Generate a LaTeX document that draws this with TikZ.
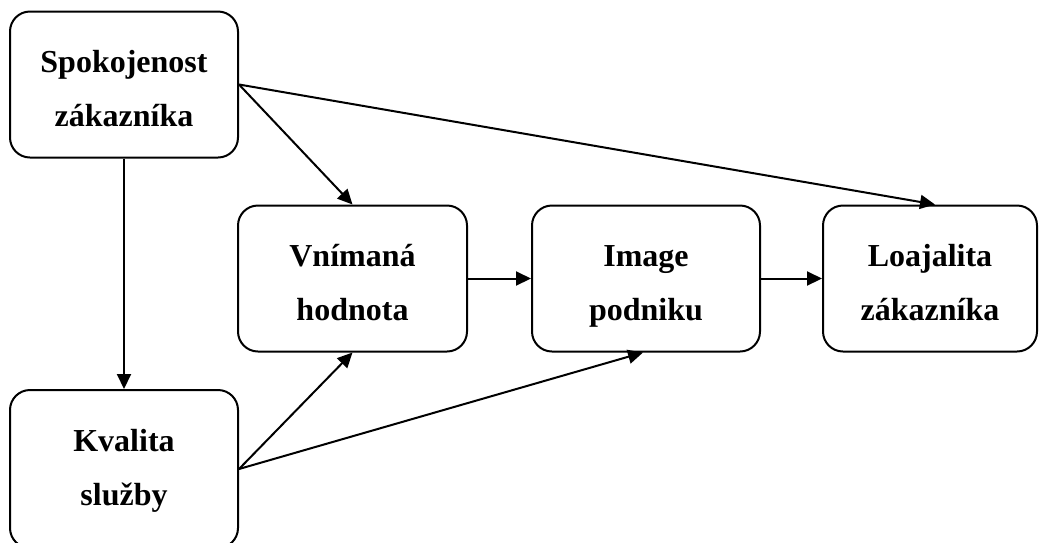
\documentclass[tikz,border=0pt]{standalone}
\usepackage{fontspec}
\setmainfont{Liberation Serif}
\usetikzlibrary{arrows.meta}
% two centred lines; the struts fix where the text sits inside its box
\newcommand\boxtext[3][38]{\rule{0pt}{#1pt}#2\\#3\rule[-8pt]{0pt}{8pt}}
\begin{document}
\begin{tikzpicture}[x=1pt,y=-1pt,
  stage/.style={draw=black, line width=2pt, rounded corners=20pt, align=center,
    inner sep=0pt, minimum width=228pt, minimum height=146pt,
    font=\fontsize{32}{54}\selectfont\bfseries},
  link/.style={draw=black, line width=2pt, -{Triangle[length=15pt,width=14pt]}}]
\useasboundingbox (0,0) rectangle (1040,542);

\node[stage] (sz) at (124,84.5) {\boxtext{Spokojenost}{zákazníka}};
\node[stage, minimum height=158pt] (kv) at (124,469) {\boxtext[27]{Kvalita}{služby}};
\node[stage, minimum width=229pt] (vn) at (352.5,278.5) {\boxtext{Vnímaná}{hodnota}};
\node[stage] (im) at (646,278.5) {\boxtext{Image}{podniku}};
\node[stage, minimum width=214pt] (lo) at (930,278.5) {\boxtext{Loajalita}{zákazníka}};

\draw[link] (sz) -- (kv);
\draw[link] (sz.east) -- (vn.north);
\draw[link] (sz.east) -- ([xshift=5pt]lo.north);
\draw[link] (vn) -- (im);
\draw[link] (im) -- (lo);
\draw[link] (kv.east) -- (vn.south);
\draw[link] (kv.east) -- ([xshift=-3pt]im.south);
\end{tikzpicture}
\end{document}
